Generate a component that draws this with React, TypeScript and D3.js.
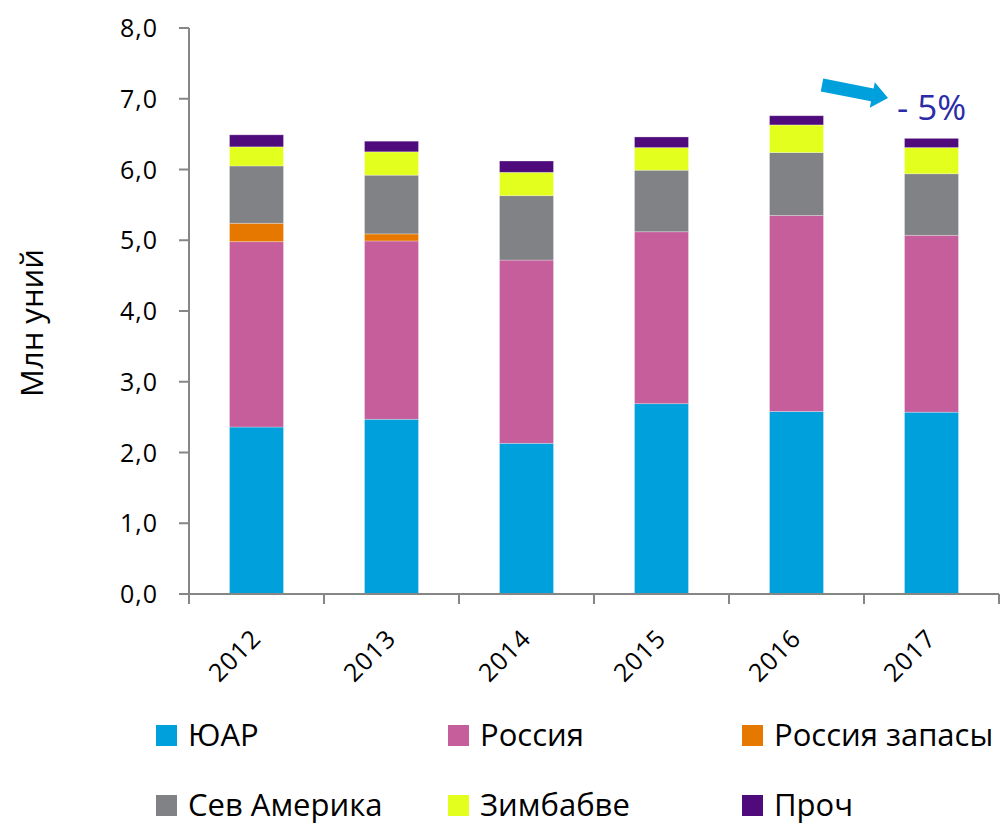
import { useEffect, useRef } from "react"
import * as d3 from "d3"

const years = ["2012", "2013", "2014", "2015", "2016", "2017"]
const seriesNames = ["ЮАР", "Россия", "Россия запасы", "Сев Америка", "Зимбабве", "Проч"]
const seriesColors = ["#00A0DC", "#C55E9B", "#E67800", "#808285", "#E3FF1E", "#4F0B7B"]

const saValues = [2.36, 2.47, 2.13, 2.69, 2.58, 2.57]
const russiaValues = [2.62, 2.52, 2.59, 2.43, 2.77, 2.50]
const russiaStockValues = [0.26, 0.10, 0, 0, 0, 0]
const northAmericaValues = [0.81, 0.83, 0.91, 0.87, 0.89, 0.87]
const zimbabweValues = [0.27, 0.33, 0.33, 0.32, 0.39, 0.37]
const otherValues = [0.17, 0.15, 0.16, 0.15, 0.13, 0.13]

const yTicks = [0, 1, 2, 3, 4, 5, 6, 7, 8]
const annotation = "- 5%"

export default function App() {
    const ref = useRef<SVGSVGElement>(null)

    useEffect(() => {
        document.body.style.margin = "0"
        const svg = d3.select(ref.current)
        svg.selectAll("*").remove()

        const font = "'Open Sans', Lato, sans-serif"
        const axisColor = "#868686"
        const left = 189, right = 999, top = 28, bottom = 594

        const allSeries = [saValues, russiaValues, russiaStockValues, northAmericaValues, zimbabweValues, otherValues]
        const rows = years.map((y, i) => {
            const row: any = { year: y }
            seriesNames.forEach((s, k) => { row[s] = allSeries[k][i] })
            return row
        })
        const stacked = d3.stack().keys(seriesNames)(rows)

        const x = d3.scaleBand().domain(years).range([left, right]).paddingInner(0.6).paddingOuter(0.3)
        const y = d3.scaleLinear().domain([0, 8]).range([bottom, top])
        const color = d3.scaleOrdinal<string, string>().domain(seriesNames).range(seriesColors)

        // bars
        svg.append("g")
            .selectAll("g")
            .data(stacked)
            .join("g")
                .attr("fill", d => color(d.key))
            .selectAll("rect")
            .data(d => d.filter(p => p[1] - p[0] > 0))
            .join("rect")
                .attr("x", d => x(d.data.year as string)!)
                .attr("width", x.bandwidth())
                .attr("y", d => y(d[1]))
                .attr("height", d => y(d[0]) - y(d[1]))
                .attr("stroke", "#ffffff")
                .attr("stroke-opacity", 0.35)
                .attr("stroke-width", 0.8)

        // y axis
        const yAxis = svg.append("g").attr("stroke", axisColor).attr("stroke-width", 2)
        yAxis.append("path").attr("d", `M${left} ${top} V${bottom}`)
        yAxis.selectAll("line")
            .data(yTicks)
            .join("line")
                .attr("x1", left - 10).attr("x2", left)
                .attr("y1", d => y(d)).attr("y2", d => y(d))
        svg.append("g")
            .selectAll("text")
            .data(yTicks)
            .join("text")
                .attr("x", 158)
                .attr("y", d => y(d))
                .attr("dy", "0.36em")
                .attr("text-anchor", "end")
                .attr("font-family", font)
                .attr("font-size", 25)
                .attr("letter-spacing", 1)
                .attr("fill", "#000")
                .text(d => d3.format(".1f")(d).replace(".", ","))

        // x axis
        const xAxis = svg.append("g").attr("stroke", axisColor).attr("stroke-width", 2)
        xAxis.append("path").attr("d", `M${left} ${bottom} H${right}`)
        const step = x.step()
        xAxis.selectAll("line")
            .data(d3.range(years.length + 1))
            .join("line")
                .attr("x1", i => left + i * step).attr("x2", i => left + i * step)
                .attr("y1", bottom).attr("y2", bottom + 10)
        svg.append("g")
            .selectAll("text")
            .data(years)
            .join("text")
                .attr("transform", d => `translate(${x(d)! + x.bandwidth() / 2 + 6}, ${bottom + 46}) rotate(-45)`)
                .attr("text-anchor", "end")
                .attr("font-family", font)
                .attr("font-size", 25)
                .attr("letter-spacing", 1)
                .text(d => d)

        // y title
        svg.append("text")
            .attr("transform", `translate(43, 323) rotate(-90)`)
            .attr("text-anchor", "middle")
            .attr("font-family", font)
            .attr("font-size", 31)
            .text("Млн уний")

        // annotation arrow
        const arrow = d3.path()
        const x0 = 822, y0 = 85, x1 = 888, y1 = 98
        const ang = Math.atan2(y1 - y0, x1 - x0)
        const ux = Math.cos(ang), uy = Math.sin(ang), nx = -uy, ny = ux
        const hw = 6.5, headW = 13, headL = 16
        const bx = x1 - ux * headL, by = y1 - uy * headL
        arrow.moveTo(x0 + nx * hw, y0 + ny * hw)
        arrow.lineTo(bx + nx * hw, by + ny * hw)
        arrow.lineTo(bx + nx * headW, by + ny * headW)
        arrow.lineTo(x1, y1)
        arrow.lineTo(bx - nx * headW, by - ny * headW)
        arrow.lineTo(bx - nx * hw, by - ny * hw)
        arrow.lineTo(x0 - nx * hw, y0 - ny * hw)
        arrow.closePath()
        svg.append("path").attr("d", arrow.toString()).attr("fill", "#00A0DC")

        svg.append("text")
            .attr("x", 897)
            .attr("y", 120)
            .attr("font-family", font)
            .attr("font-size", 35)
            .attr("fill", "#2B2BA8")
            .text(annotation)

        // legend
        const legendX = [156, 448, 742]
        const legendY = [746, 816]
        const legend = svg.append("g")
            .selectAll("g")
            .data(seriesNames)
            .join("g")
                .attr("transform", (d, i) => `translate(${legendX[i % 3]}, ${legendY[Math.floor(i / 3)]})`)
        legend.append("rect")
            .attr("x", 0).attr("y", -21)
            .attr("width", 21).attr("height", 21)
            .attr("fill", d => color(d))
        legend.append("text")
            .attr("x", 32)
            .attr("y", 0)
            .attr("font-family", font)
            .attr("font-size", 31)
            .text(d => d)
    }, [])

    return <svg ref={ref} width={1002} height={827} style={{ display: "block" }} />
}
